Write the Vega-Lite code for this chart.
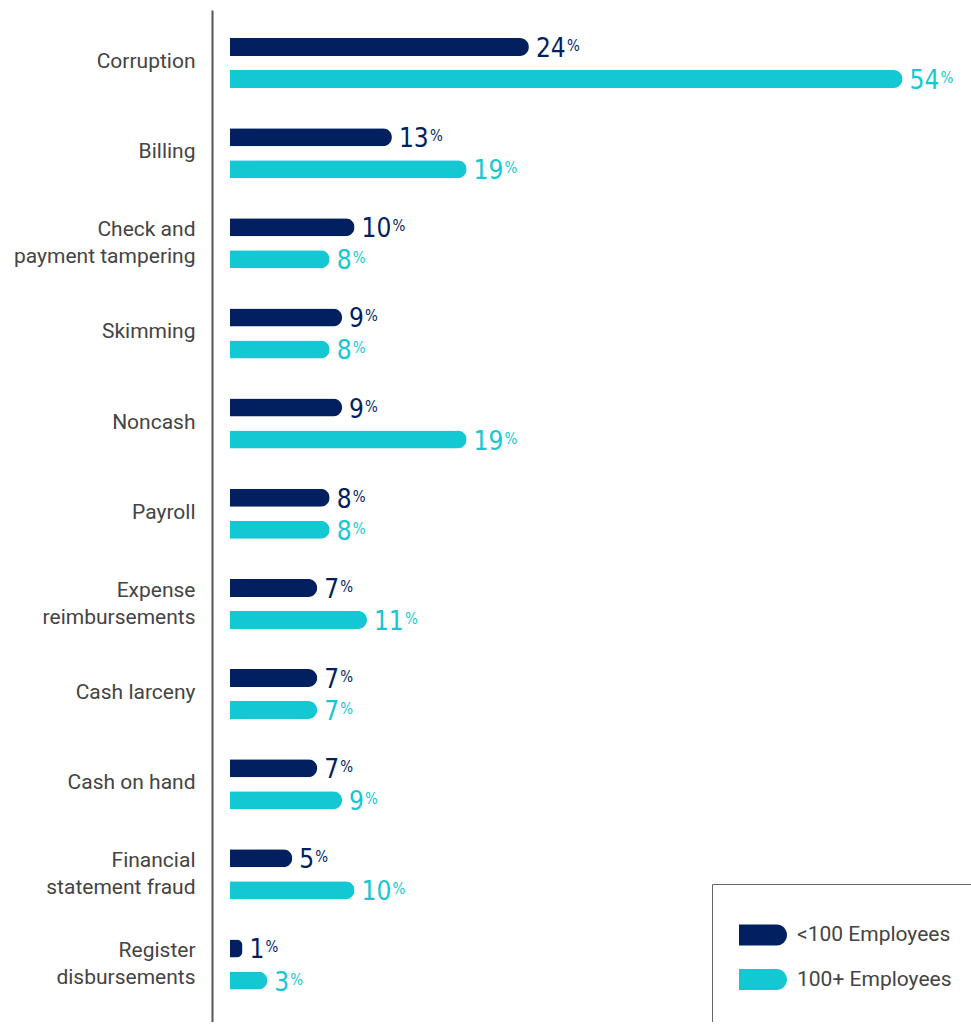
{
  "$schema": "https://vega.github.io/schema/vega-lite/v6.json",
  "width": 741,
  "height": 1012,
  "autosize": "none",
  "padding": {"left": 230, "top": 10, "right": 0, "bottom": 0},
  "background": "white",
  "config": {"view": {"stroke": null}},
  "data": {
    "values": [
      {"cat": "Corruption", "group": "<100 Employees", "value": 24},
      {"cat": "Corruption", "group": "100+ Employees", "value": 54},
      {"cat": "Billing", "group": "<100 Employees", "value": 13},
      {"cat": "Billing", "group": "100+ Employees", "value": 19},
      {"cat": "Check and|payment tampering", "group": "<100 Employees", "value": 10},
      {"cat": "Check and|payment tampering", "group": "100+ Employees", "value": 8},
      {"cat": "Skimming", "group": "<100 Employees", "value": 9},
      {"cat": "Skimming", "group": "100+ Employees", "value": 8},
      {"cat": "Noncash", "group": "<100 Employees", "value": 9},
      {"cat": "Noncash", "group": "100+ Employees", "value": 19},
      {"cat": "Payroll", "group": "<100 Employees", "value": 8},
      {"cat": "Payroll", "group": "100+ Employees", "value": 8},
      {"cat": "Expense|reimbursements", "group": "<100 Employees", "value": 7},
      {"cat": "Expense|reimbursements", "group": "100+ Employees", "value": 11},
      {"cat": "Cash larceny", "group": "<100 Employees", "value": 7},
      {"cat": "Cash larceny", "group": "100+ Employees", "value": 7},
      {"cat": "Cash on hand", "group": "<100 Employees", "value": 7},
      {"cat": "Cash on hand", "group": "100+ Employees", "value": 9},
      {"cat": "Financial|statement fraud", "group": "<100 Employees", "value": 5},
      {"cat": "Financial|statement fraud", "group": "100+ Employees", "value": 10},
      {"cat": "Register|disbursements", "group": "<100 Employees", "value": 1},
      {"cat": "Register|disbursements", "group": "100+ Employees", "value": 3}
    ]
  },
  "encoding": {
    "y": {
      "field": "cat",
      "type": "nominal",
      "sort": null,
      "scale": {"paddingInner": 0, "paddingOuter": 0.113, "align": 0.39},
      "axis": {
        "title": null,
        "domainColor": "#555555",
        "domainWidth": 2,
        "ticks": false,
        "offset": 18,
        "labelPadding": 17,
        "labelFont": "Roboto",
        "labelFontSize": 21,
        "labelColor": "#444444",
        "labelExpr": "split(datum.label, '|')",
        "labelLineHeight": 27,
        "labelLimit": 300,
        "labelOffset": {"condition": {"test": "indexof(datum.value, '|') >= 0", "value": -13}, "value": -1}
      }
    },
    "yOffset": {
      "field": "group",
      "type": "nominal",
      "sort": ["<100 Employees", "100+ Employees"],
      "scale": {"paddingInner": 0.4375, "paddingOuter": 0.627}
    },
    "x": {
      "field": "value",
      "type": "quantitative",
      "scale": {"domain": [0, 59.5], "nice": false},
      "axis": null
    },
    "color": {
      "field": "group",
      "type": "nominal",
      "sort": ["<100 Employees", "100+ Employees"],
      "scale": {"domain": ["<100 Employees", "100+ Employees"], "range": ["#021F5F", "#14C8D3"]},
      "legend": null
    }
  },
  "layer": [
    {
      "mark": {"type": "bar", "cornerRadiusEnd": 9},
      "encoding": {
        "color": {
          "field": "group",
          "type": "nominal",
          "sort": ["<100 Employees", "100+ Employees"],
          "scale": {"domain": ["<100 Employees", "100+ Employees"], "range": ["#021F5F", "#14C8D3"]},
          "legend": {
            "orient": "none",
            "legendX": 482,
            "legendY": 874,
            "title": " ",
            "titleOrient": "bottom",
            "titleFontSize": 20,
            "titlePadding": 0,
            "padding": 27,
            "rowPadding": 9.5,
            "strokeColor": "#666666",
            "symbolType": "M-1,-0.4375H0.5625A0.4375,0.4375 0 0 1 0.5625,0.4375H-1Z",
            "symbolSize": 2304,
            "symbolStrokeWidth": 0,
            "symbolOpacity": 1,
            "labelFont": "Roboto",
            "labelFontSize": 21,
            "labelColor": "#444444",
            "labelOffset": 10,
            "labelLimit": 300
          }
        }
      }
    },
    {
      "mark": {"type": "text", "align": "left", "baseline": "alphabetic", "dx": 7, "dy": 10, "font": "DejaVu Sans Condensed", "fontSize": 26},
      "encoding": {"text": {"field": "value", "type": "quantitative"}}
    },
    {
      "transform": [{"filter": "datum.value < 10"}],
      "mark": {"type": "text", "text": "%", "align": "left", "baseline": "alphabetic", "dx": 23, "dy": 4, "font": "DejaVu Sans Condensed", "fontSize": 15},
      "encoding": {}
    },
    {
      "transform": [{"filter": "datum.value >= 10"}],
      "mark": {"type": "text", "text": "%", "align": "left", "baseline": "alphabetic", "dx": 38, "dy": 4, "font": "DejaVu Sans Condensed", "fontSize": 15},
      "encoding": {}
    }
  ]
}
